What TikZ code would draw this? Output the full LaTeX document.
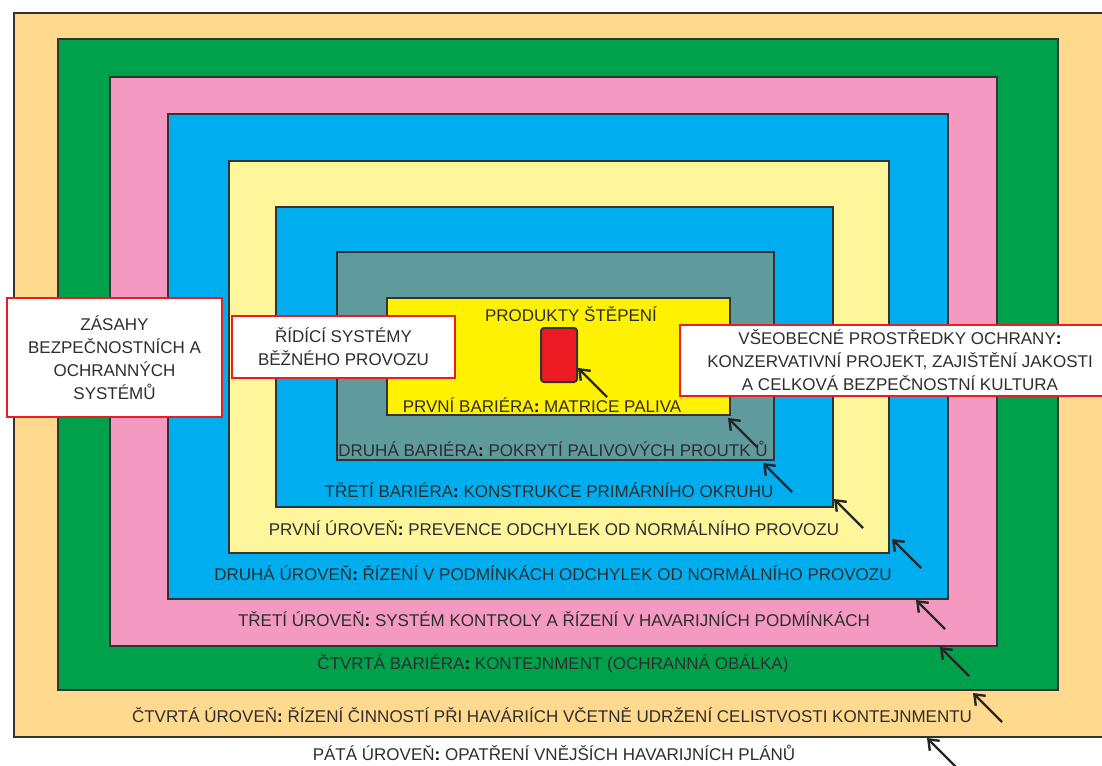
\documentclass[tikz,border=0pt]{standalone}
\usepackage{fontspec}
\setmainfont{Liberation Sans}
\usetikzlibrary{fit,arrows.meta}

\definecolor{okr}{HTML}{FFDA8E}
\definecolor{zelena}{HTML}{00A14B}
\definecolor{ruzova}{HTML}{F49AC1}
\definecolor{modra}{HTML}{00AEEF}
\definecolor{svzluta}{HTML}{FFF59B}
\definecolor{seda}{HTML}{5F9A9D}
\definecolor{zluta}{HTML}{FFF200}
\definecolor{cervena}{HTML}{ED1C24}
\definecolor{cara}{HTML}{333333}
\definecolor{pismo}{HTML}{2E2E2E}

\newcommand{\dvojt}{\textbf{\color{black}:}}

\tikzset{
  vrstva/.style={draw=cara, line width=2pt, inner sep=0pt},
  popis/.style={text=pismo, font=\fontsize{17}{20}\selectfont, anchor=base, inner sep=0pt},
  stitek/.style={draw=cervena, fill=white, line width=2.5pt, inner sep=0pt, text=pismo,
    align=center, font=\fontsize{17}{23}\selectfont},
  sipka/.style={draw=black!85, line width=2.4pt, -{Straight Barb[length=9pt,width=14pt]}}
}

\begin{document}
\begin{tikzpicture}[x=1pt,y=-1pt]
\useasboundingbox (0,0) rectangle (1102,765);
\clip (0,0) rectangle (1102,765);

% vrstvy od vnejsi
\node[vrstva, fill=okr, fit={(14,13) (1130,737)}] (lev5) {};
\node[vrstva, fill=zelena, fit={(58,39) (1058,690)}] (bar4) {};
\node[vrstva, fill=ruzova, fit={(110,77) (997,646)}] (lev3) {};
\node[vrstva, fill=modra, fit={(168,114) (948,599)}] (lev2) {};
\node[vrstva, fill=svzluta, fit={(229,161) (889,553)}] (lev1) {};
\node[vrstva, fill=modra, fit={(276,207) (833,507)}] (bar3) {};
\node[vrstva, fill=seda, fit={(337,252) (774,460)}] (bar2) {};
\node[vrstva, fill=zluta, fit={(387,298) (730,415)}] (bar1) {};
\node[vrstva, fill=cervena, rounded corners=3pt, fit={(541,328) (577,382)}] (palivo) {};

% popisky
\node[popis] (t0) at (571,321) {PRODUKTY ŠTĚPENÍ};
\node[popis] (t1) at (542,412) {PRVNÍ BARIÉRA\dvojt{} MATRICE PALIVA};
\node[popis] (t2) at (553,456) {DRUHÁ BARIÉRA\dvojt{} POKRYTÍ PALIVOVÝCH PROUTK Ů};
\node[popis] (t3) at (549,497) {TŘETÍ BARIÉRA\dvojt{} KONSTRUKCE PRIMÁRNÍHO OKRUHU};
\node[popis] (t4) at (554,535) {PRVNÍ ÚROVEŇ\dvojt{} PREVENCE ODCHYLEK OD NORMÁLNÍHO PROVOZU};
\node[popis] (t5) at (553,580) {DRUHÁ ÚROVEŇ\dvojt{} ŘÍZENÍ V PODMÍNKÁCH ODCHYLEK OD NORMÁLNÍHO PROVOZU};
\node[popis] (t6) at (554,626) {TŘETÍ ÚROVEŇ\dvojt{} SYSTÉM KONTROLY A ŘÍZENÍ V HAVARIJNÍCH PODMÍNKÁCH};
\node[popis] (t7) at (553,669) {ČTVRTÁ BARIÉRA\dvojt{} KONTEJNMENT (OCHRANNÁ OBÁLKA)};
\node[popis] (t8) at (552,722) {ČTVRTÁ ÚROVEŇ\dvojt{} ŘÍZENÍ ČINNOSTÍ PŘI HAVÁRIÍCH VČETNĚ UDRŽENÍ CELISTVOSTI KONTEJNMENTU};
\node[popis] (t9) at (554,760) {PÁTÁ ÚROVEŇ\dvojt{} OPATŘENÍ VNĚJŠÍCH HAVARIJNÍCH PLÁNŮ};

% ramecky
\node[stitek, minimum width=215pt, minimum height=119pt] (zasahy) at (114.5,357.5)
  {ZÁSAHY\\BEZPEČNOSTNÍCH A\\OCHRANNÝCH\\SYSTÉMŮ};
\node[stitek, minimum width=223pt, minimum height=62pt] (ridici) at (343.5,347)
  {ŘÍDÍCÍ SYSTÉMY\\BĚŽNÉHO PROVOZU};
\node[stitek, minimum width=440pt, minimum height=71pt] (obecne) at (900,360.5)
  {VŠEOBECNÉ PROSTŘEDKY OCHRANY\dvojt\\KONZERVATIVNÍ PROJEKT, ZAJIŠTĚNÍ JAKOSTI\\A CELKOVÁ BEZPEČNOSTNÍ KULTURA};

% sipky
\coordinate (h1) at ([yshift=15pt]palivo.south east);
\coordinate (h2) at ([shift={(-3pt,-2pt)}]bar1.south east);
\coordinate (h3) at ([shift={(-12pt,-2pt)}]bar2.south east);
\coordinate (h4) at ([yshift=9pt]bar3.south east);
\coordinate (h5) at ([shift={(2pt,15pt)}]lev1.south east);
\coordinate (h6) at ([xshift=-33pt]lev2.south east);
\coordinate (h7) at ([xshift=-58pt]lev3.south east);
\coordinate (h8) at ([shift={(-86pt,-2pt)}]bar4.south east);
\coordinate (h9) at ([xshift=914pt]lev5.south west);

\coordinate (o1) at ([shift={(29pt,-29pt)}]h1);
\coordinate (o2) at ([shift={(29pt,-29pt)}]h2);
\coordinate (o3) at ([shift={(29pt,-29pt)}]h3);
\coordinate (o4) at ([shift={(29pt,-29pt)}]h4);
\coordinate (o5) at ([shift={(29pt,-29pt)}]h5);
\coordinate (o6) at ([shift={(29pt,-29pt)}]h6);
\coordinate (o7) at ([shift={(29pt,-29pt)}]h7);
\coordinate (o8) at ([shift={(29pt,-29pt)}]h8);
\coordinate (o9) at ([shift={(29pt,-29pt)}]h9);

\draw[sipka] (o1) -- (h1);
\draw[sipka] (o2) -- (h2);
\draw[sipka] (o3) -- (h3);
\draw[sipka] (o4) -- (h4);
\draw[sipka] (o5) -- (h5);
\draw[sipka] (o6) -- (h6);
\draw[sipka] (o7) -- (h7);
\draw[sipka] (o8) -- (h8);
\draw[sipka] (o9) -- (h9);
\end{tikzpicture}
\end{document}
